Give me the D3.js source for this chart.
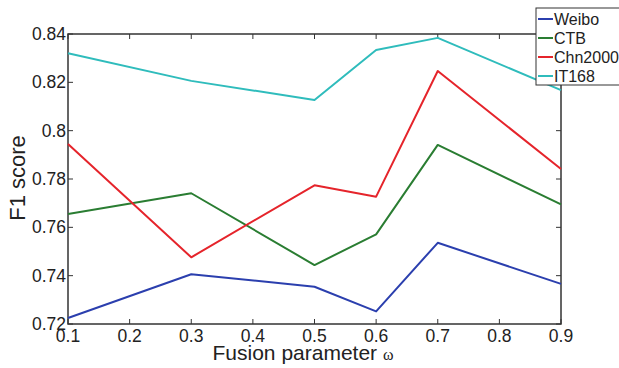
<!DOCTYPE html>
<html>
<head>
<meta charset="utf-8">
<script src="https://cdn.jsdelivr.net/npm/d3@7"></script>
<style>
  body { margin: 0; background: #fff; }
  svg { font-family: "Liberation Sans", Arial, sans-serif; }
</style>
</head>
<body>
<svg id="chart1"></svg>
<script>
let w = 619;
let h = 368;

// data
let params = [0.1, 0.3, 0.5, 0.6, 0.7, 0.9];
let weibo = [0.7225, 0.7406, 0.7354, 0.7252, 0.7536, 0.7366];
let ctb = [0.7655, 0.7741, 0.7444, 0.7571, 0.7941, 0.7695];
let chn2000 = [0.7945, 0.7476, 0.7774, 0.7727, 0.8247, 0.7841];
let it168 = [0.8320, 0.8206, 0.8127, 0.8334, 0.8384, 0.8168];
let seriesNames = ['Weibo', 'CTB', 'Chn2000', 'IT168'];
let seriesColors = ['#2b3fae', '#2a7d32', '#e5242b', '#2fbcbc'];
let xTicks = [0.1, 0.2, 0.3, 0.4, 0.5, 0.6, 0.7, 0.8, 0.9];
let yTicks = [0.72, 0.74, 0.76, 0.78, 0.8, 0.82, 0.84];

let series = [weibo, ctb, chn2000, it168];

let pLeft = 68, pRight = 561, pTop = 34, pBottom = 324;

let svg = d3.select('#chart1')
  .attr('width', w)
  .attr('height', h);

let xScale = d3.scaleLinear().domain([0.1, 0.9]).range([pLeft, pRight]);
let yScale = d3.scaleLinear().domain([0.72, 0.84]).range([pBottom, pTop]);

let axisColor = '#333';

// frame
svg.append('rect')
  .attr('x', pLeft).attr('y', pTop)
  .attr('width', pRight - pLeft).attr('height', pBottom - pTop)
  .attr('fill', 'none').attr('stroke', axisColor).attr('stroke-width', 1.5);

// ticks pointing inward, mirrored on all sides
let tl = 5;
let tickG = svg.append('g').attr('stroke', axisColor).attr('stroke-width', 1);
xTicks.forEach(t => {
  tickG.append('line').attr('x1', xScale(t)).attr('x2', xScale(t)).attr('y1', pBottom).attr('y2', pBottom - tl);
  tickG.append('line').attr('x1', xScale(t)).attr('x2', xScale(t)).attr('y1', pTop).attr('y2', pTop + tl);
});
yTicks.forEach(t => {
  tickG.append('line').attr('x1', pLeft).attr('x2', pLeft + tl).attr('y1', yScale(t)).attr('y2', yScale(t));
  tickG.append('line').attr('x1', pRight).attr('x2', pRight - tl).attr('y1', yScale(t)).attr('y2', yScale(t));
});

// tick labels
svg.append('g').selectAll('text')
  .data(xTicks).enter().append('text')
  .attr('x', d => xScale(d))
  .attr('y', 342)
  .attr('text-anchor', 'middle')
  .attr('font-size', 17.5)
  .attr('fill', '#222')
  .text(d => d3.format('.1f')(d));

svg.append('g').selectAll('text')
  .data(yTicks).enter().append('text')
  .attr('x', pLeft - 2)
  .attr('y', d => yScale(d))
  .attr('dy', '0.35em')
  .attr('text-anchor', 'end')
  .attr('font-size', 17.5)
  .attr('fill', '#222')
  .text(d => d3.format('.2~f')(d));

// axis titles
let xl = svg.append('text')
  .attr('x', 303)
  .attr('y', 360)
  .attr('text-anchor', 'middle')
  .attr('font-size', 21)
  .attr('fill', '#222');
xl.append('tspan').text('Fusion parameter ');
xl.append('tspan').attr('font-family', '"Liberation Serif", serif').attr('font-size', 16).text('ω');

svg.append('text')
  .attr('transform', 'translate(25,178) rotate(-90)')
  .attr('text-anchor', 'middle')
  .attr('font-size', 22)
  .attr('fill', '#222')
  .text('F1 score');

// lines
let lineFunction = d3.line()
  .x((d, i) => xScale(params[i]))
  .y(d => yScale(d));

svg.append('g').selectAll('path')
  .data(series).enter().append('path')
  .attr('d', d => lineFunction(d))
  .attr('stroke', (d, i) => seriesColors[i])
  .attr('stroke-width', 2)
  .attr('stroke-linejoin', 'round')
  .attr('fill', 'none');

// legend
let lg = svg.append('g').attr('transform', 'translate(536,8)');
lg.append('rect')
  .attr('x', 0).attr('y', 0)
  .attr('width', 90).attr('height', 77)
  .attr('fill', '#fff').attr('stroke', axisColor).attr('stroke-width', 1);
seriesNames.forEach((n, i) => {
  let yy = 11 + i * 19;
  lg.append('line')
    .attr('x1', 2).attr('x2', 17).attr('y1', yy).attr('y2', yy)
    .attr('stroke', seriesColors[i]).attr('stroke-width', 2);
  lg.append('text')
    .attr('x', 18).attr('y', yy).attr('dy', '0.35em')
    .attr('font-size', 16).attr('fill', '#222')
    .text(n);
});
</script>
</body>
</html>
